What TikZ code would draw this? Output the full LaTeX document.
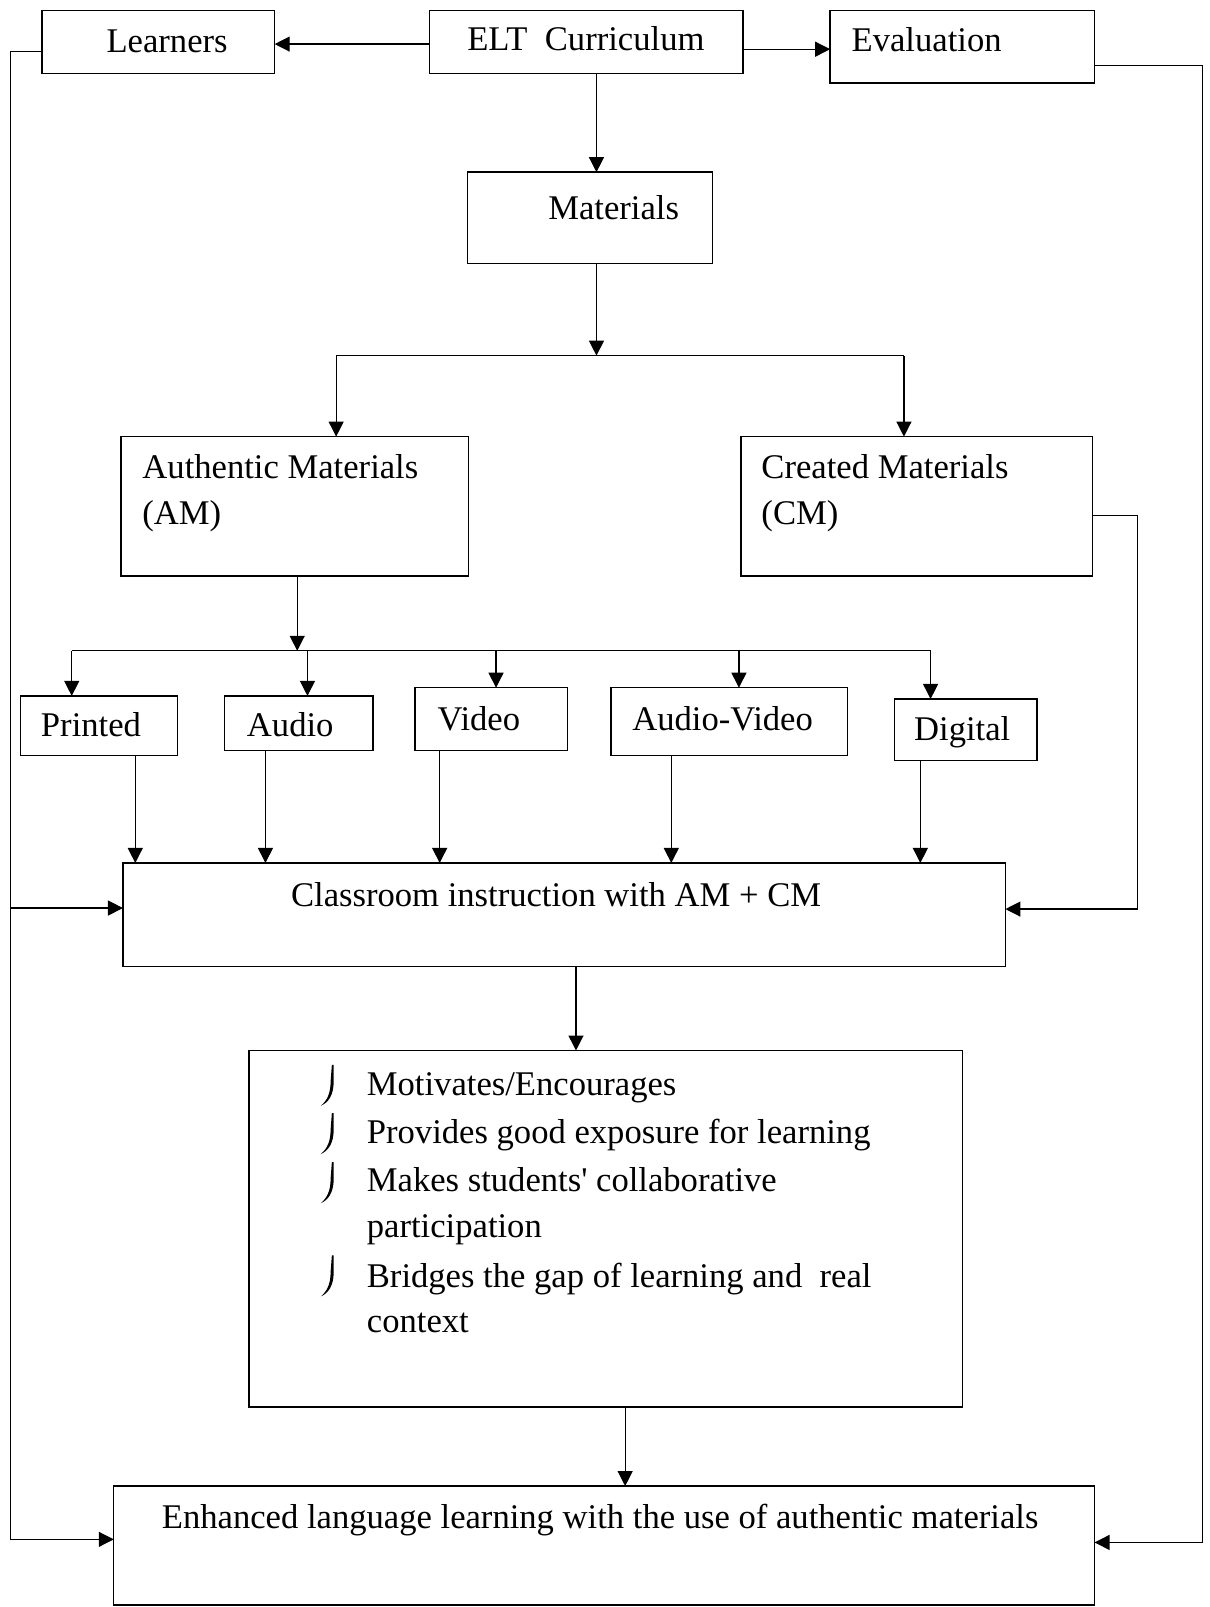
\documentclass[tikz,border=0pt]{standalone}
\usepackage{fontspec}
\setmainfont{Liberation Serif}
\newfontfamily\rawserif{Liberation Serif}
\usetikzlibrary{arrows.meta,fit}
\begin{document}
\begin{tikzpicture}[x=1.0246pt,y=-1.0246pt,
  box/.style={draw,line width=1.4pt,inner sep=0pt,outer sep=0pt},
  lbl/.style={anchor=base west,inner sep=0pt,outer sep=0pt,font=\fontsize{34.6}{40}\selectfont},
  ln/.style={line width=1.2pt},
  arr/.style={ln,-{Triangle[length=15pt,width=15pt]}}]
\useasboundingbox (0,0) rectangle (1180,1568);
% boxes
\node[box,fit={(41,10)(268,72)}] (learners) {};
\node[box,fit={(419,10)(725,72)}] (elt) {};
\node[box,fit={(810,10)(1068,81)}] (eval) {};
\node[box,fit={(456,168)(695,257)}] (mat) {};
\node[box,fit={(118,426)(457,562)}] (am) {};
\node[box,fit={(723,426)(1066,562)}] (cm) {};
\node[box,fit={(20,679)(173,737)}] (pr) {};
\node[box,fit={(219,679)(364,732)}] (au) {};
\node[box,fit={(405,671)(554,732)}] (vi) {};
\node[box,fit={(596,671)(827,737)}] (av) {};
\node[box,fit={(873,682)(1012,742)}] (di) {};
\node[box,fit={(120,842)(981,943)}] (cls) {};
\node[box,fit={(243,1025)(939,1373)}] (bul) {};
\node[box,fit={(111,1450)(1068,1566)}] (enh) {};
% texts
\node[lbl] (learnersT) at (104,51) {Learners};
\node[lbl] (eltT) at (456,49) {ELT~ Curriculum};
\node[lbl] (evalT) at (831,50) {Evaluation};
\node[lbl] (matT) at (535,214) {Materials};
\node[lbl] (amT1) at (139,467) {Authentic Materials};
\node[lbl] (amT2) at (139,512) {(AM)};
\node[lbl] (cmT1) at (743,467) {Created Materials};
\node[lbl] (cmT2) at (743,512) {(CM)};
\node[lbl] (prT) at (40,719) {Printed};
\node[lbl] (auT) at (241,719) {Audio};
\node[lbl] (viT) at (427,712.5) {Video};
\node[lbl] (avT) at (617,712.5) {Audio-Video};
\node[lbl] (diT) at (892,723) {Digital};
\node[lbl] (clsT) at (284,884) {Classroom instruction with AM + CM};
\node[lbl] (b1) at (358,1069) {Motivates/Encourages};
\node[lbl] (b2) at (358,1116) {Provides good exposure for learning};
\node[lbl] (b3a) at (358,1163) {Makes students{\rawserif '} collaborative};
\node[lbl] (b3b) at (358,1207) {participation};
\node[lbl] (b4a) at (358,1256) {Bridges the gap of learning and~ real};
\node[lbl] (b4b) at (358,1300) {context};
\node[lbl] (enhT) at (158,1491) {Enhanced language learning with the use of authentic materials};
% bullet marks
\foreach \t in {1039,1086,1134,1225}
  \fill (325.6,\t) -- (325.6,\t+16) .. controls (325.6,\t+30) and (320,\t+37) .. (313,\t+40)
        .. controls (319,\t+35) and (322.6,\t+28) .. (322.6,\t+16) -- (323.8,\t) -- cycle;
% connectors
\draw[arr] (elt.west |- 0,43) -- (learners.east |- 0,43);
\draw[arr] (elt.east |- 0,48) -- (eval.west |- 0,48);
\coordinate (ltop) at (10,50);
\coordinate (lmid) at (10,886);
\coordinate (lbot) at (10,1502);
\draw[arr] (learners.west |- ltop) -- (ltop) -- (lbot) -- (enh.west |- lbot);
\draw[arr] (lmid) -- (cls.west |- lmid);
\coordinate (rtop) at (1173,64);
\coordinate (rbot) at (1173,1505);
\draw[arr] (eval.east |- rtop) -- (rtop) -- (rbot) -- (enh.east |- rbot);
\coordinate (ctop) at (1110,503);
\coordinate (cbot) at (1110,887);
\draw[arr] (cm.east |- ctop) -- (ctop) -- (cbot) -- (cls.east |- cbot);
\draw[arr] (elt.south -| 582,0) -- (mat.north -| 582,0);
\coordinate (s1) at (582,347);
\coordinate (s1l) at (328,347);
\coordinate (s1r) at (882,347);
\draw[arr] (mat.south -| s1) -- (s1);
\draw[ln] (s1l) -- (s1r);
\draw[arr] (s1l) -- (am.north -| s1l);
\draw[arr] (s1r) -- (cm.north -| s1r);
\coordinate (s2) at (290,635);
\coordinate (s2l) at (70,635);
\coordinate (s2r) at (908,635);
\draw[arr] (am.south -| s2) -- (s2);
\draw[ln] (s2l) -- (s2r);
\draw[arr] (s2l) -- (pr.north -| s2l);
\draw[arr] (s2l -| 300,0) -- (au.north -| 300,0);
\draw[arr] (s2l -| 484,0) -- (vi.north -| 484,0);
\draw[arr] (s2l -| 721,0) -- (av.north -| 721,0);
\draw[arr] (s2r) -- (di.north -| s2r);
\draw[arr] (pr.south -| 132,0) -- (cls.north -| 132,0);
\draw[arr] (au.south -| 259,0) -- (cls.north -| 259,0);
\draw[arr] (vi.south -| 429,0) -- (cls.north -| 429,0);
\draw[arr] (av.south -| 655,0) -- (cls.north -| 655,0);
\draw[arr] (di.south -| 898,0) -- (cls.north -| 898,0);
\draw[arr] (cls.south -| 562,0) -- (bul.north -| 562,0);
\draw[arr] (bul.south -| 610,0) -- (enh.north -| 610,0);
\end{tikzpicture}
\end{document}
